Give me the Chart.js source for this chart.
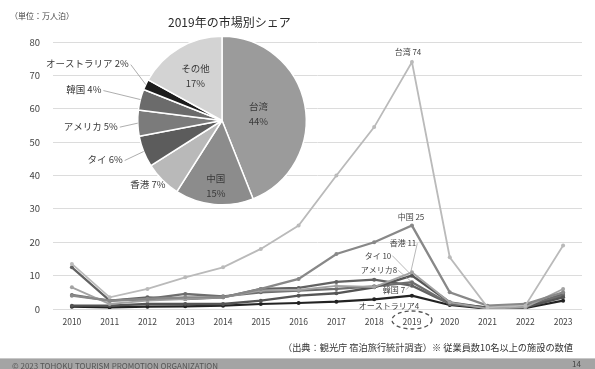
<!DOCTYPE html>
<html lang="ja">
<head>
<meta charset="utf-8">
<script src="https://cdn.jsdelivr.net/npm/chart.js@4.4.1/dist/chart.umd.min.js"></script>
<style>
    body { margin: 0; background: #fff; font-family: "Noto Sans CJK JP", sans-serif; }
    #wrap { position: relative; width: 595px; height: 369px; overflow: hidden; background: #fff; }
    #wrap canvas { position: absolute; left: 0; top: 0; }
    #pieChart { pointer-events: none; }
    .txt { position: absolute; white-space: nowrap; color: #333; line-height: 1; }
    #unit { left: 10px; top: 12px; font-size: 8px; color: #444; }
    #pieTitle { left: 168px; top: 16px; font-size: 12px; color: #2a2a2a; }
    #source { left: 283px; top: 343px; font-size: 9.2px; color: #333; }
    #footer { position: absolute; left: 0; top: 358px; width: 595px; height: 11px; background: #a4a4a4; border-top: 1px solid #c8c8c8; }
    #copy { left: 12px; top: 362px; font-size: 8px; color: #555; }
    #page { left: 572px; top: 360px; font-size: 8px; color: #444; }
</style>
</head>
<body>
<div id="wrap">
    <canvas id="lineChart" width="595" height="369"></canvas>
    <canvas id="pieChart" width="595" height="369"></canvas>
    <div class="txt" id="unit">（単位：万人泊）</div>
    <div class="txt" id="pieTitle">2019年の市場別シェア</div>
    <div class="txt" id="source">（出典：観光庁 宿泊旅行統計調査）※ 従業員数10名以上の施設の数値</div>
    <div id="footer"></div>
    <div class="txt" id="copy">© 2023 TOHOKU TOURISM PROMOTION ORGANIZATION</div>
    <div class="txt" id="page">14</div>
</div>
<script>
// 年
var years = ['2010', '2011', '2012', '2013', '2014', '2015', '2016', '2017', '2018', '2019', '2020', '2021', '2022', '2023'];

// 市場別 外国人延べ宿泊者数（万人泊）
var taiwan    = [13.5, 3.5, 6, 9.5, 12.5, 18, 25, 40, 54.5, 74, 15.5, 0.5, 1, 19];
var china     = [4, 2.5, 3, 3.5, 3.5, 6, 9, 16.5, 20, 25, 5, 1, 1.5, 5];
var hongkong  = [6.5, 1.5, 2.5, 3, 3.5, 5.5, 5.7, 6.9, 6.6, 11, 2, 0.1, 0.5, 6];
var thai      = [1, 1, 1.5, 1.5, 1.5, 2.5, 4, 4.7, 6.5, 10, 2, 0.3, 0.5, 3.5];
var america   = [4.2, 2.5, 3, 4.5, 3.8, 5, 5.5, 6, 6.8, 8, 1.5, 0.5, 1, 4];
var korea     = [12.5, 2.5, 3.5, 3, 3.5, 6, 6.3, 8.1, 8.8, 7, 1.5, 0.3, 0.8, 4.5];
var australia = [0.7, 0.5, 0.7, 0.8, 1, 1.5, 1.8, 2.2, 2.9, 4, 1.2, 0.1, 0.3, 2.5];

var marketNames = ['台湾', '中国', '香港', 'タイ', 'アメリカ', '韓国', 'オーストラリア'];
var endLabels = ['台湾 74', '中国 25', '香港 11', 'タイ 10', 'アメリカ8', '韓国 7', 'オーストラリア4'];

// 2019年の市場別シェア
var shareLabels = ['台湾', '中国', '香港', 'タイ', 'アメリカ', '韓国', 'オーストラリア', 'その他'];
var shareValues = [44, 15, 7, 6, 5, 4, 2, 17];

var yMin = 0, yMax = 80, yStep = 10;

// 見た目
var lineColors = ['#bababa', '#888888', '#a3a3a3', '#555555', '#6e6e6e', '#626262', '#222222'];
var lineWidths = [1.8, 2.3, 1.8, 2.4, 2.3, 2.3, 2.2];
// 2019年の点からのラベル位置 [dx, dy, 引き出し線]
var endLabelPos = [[-4, -10, false], [-1, -9, false], [-9, -29, true], [-34, -20, true], [-33, -12, true], [-18, 4, true], [-23, 10, false]];
var pieColors = ['#9b9b9b', '#8c8c8c', '#b9b9b9', '#5c5c5c', '#7b7b7b', '#6b6b6b', '#1c1c1c', '#d3d3d3'];
var pieLabelPos = [
    { inside: 0.44 },
    { inside: 0.78 },
    { dx: 3, dy: 4, line: false },
    { dx: -21, dy: 8, line: true },
    { dx: -20, dy: 3, line: true },
    { dx: -39, dy: -10, line: true },
    { dx: -17, dy: -21, line: true },
    { inside: 0.62 }
];

var FONT = '"Noto Sans CJK JP", sans-serif';
var series = [taiwan, china, hongkong, thai, america, korea, australia];
var idx2019 = years.indexOf('2019');

var endLabelPlugin = {
    id: 'endLabels',
    afterDatasetsDraw: function (chart) {
        var ctx = chart.ctx;
        ctx.save();
        ctx.font = '8px ' + FONT;
        ctx.textBaseline = 'middle';
        ctx.textAlign = 'center';
        chart.data.datasets.forEach(function (ds, i) {
            var pt = chart.getDatasetMeta(i).data[idx2019];
            var p = endLabelPos[i];
            var tx = pt.x + p[0], ty = pt.y + p[1];
            ctx.fillStyle = '#444';
            ctx.fillText(endLabels[i], tx, ty);
            if (p[2]) {
                var w = ctx.measureText(endLabels[i]).width;
                ctx.strokeStyle = '#999';
                ctx.lineWidth = 0.7;
                ctx.beginPath();
                ctx.moveTo(tx + w / 2 + 1, ty);
                ctx.lineTo(pt.x - 1, pt.y - 1);
                ctx.stroke();
            }
        });
        // 2019 を囲む破線の楕円
        var xs = chart.scales.x;
        var cx = xs.getPixelForValue(idx2019);
        ctx.strokeStyle = '#555';
        ctx.lineWidth = 1.3;
        ctx.setLineDash([4, 3]);
        ctx.beginPath();
        ctx.ellipse(cx, 320, 20, 9, 0, 0, Math.PI * 2);
        ctx.stroke();
        ctx.restore();
    }
};

var datasets = series.map(function (vals, i) {
    return {
        label: marketNames[i],
        data: vals,
        borderColor: lineColors[i],
        backgroundColor: lineColors[i],
        borderWidth: lineWidths[i],
        pointRadius: 2,
        pointBorderWidth: 0,
        tension: 0
    };
});

new Chart(document.getElementById('lineChart'), {
    type: 'line',
    data: { labels: years, datasets: datasets },
    options: {
        responsive: false,
        animation: false,
        layout: { padding: { left: 0, top: 42, right: 13, bottom: 40 } },
        plugins: { legend: { display: false }, tooltip: { enabled: false } },
        scales: {
            x: {
                offset: true,
                grid: { display: false, drawTicks: false },
                border: { display: false },
                ticks: { color: '#444', font: { size: 8.5, family: FONT }, padding: 8, maxRotation: 0 },
                afterFit: function (s) { s.height = 20; }
            },
            y: {
                min: yMin,
                max: yMax,
                grid: { color: '#dcdcdc', lineWidth: 1, drawTicks: false },
                border: { display: false },
                ticks: { stepSize: yStep, color: '#444', font: { size: 9.5, family: FONT }, padding: 13 },
                afterFit: function (s) { s.width = 53; }
            }
        }
    },
    plugins: [endLabelPlugin]
});

var pieLabelPlugin = {
    id: 'pieLabels',
    afterDatasetsDraw: function (chart) {
        var ctx = chart.ctx;
        var arcs = chart.getDatasetMeta(0).data;
        ctx.save();
        ctx.font = '9.5px ' + FONT;
        ctx.fillStyle = '#3a3a3a';
        ctx.textBaseline = 'middle';
        arcs.forEach(function (arc, i) {
            var mid = (arc.startAngle + arc.endAngle) / 2;
            var p = pieLabelPos[i];
            if (p.inside) {
                var r = arc.outerRadius * p.inside;
                var x = arc.x + Math.cos(mid) * r, y = arc.y + Math.sin(mid) * r;
                ctx.textAlign = 'center';
                ctx.fillText(shareLabels[i], x, y - 7.5);
                ctx.fillText(shareValues[i] + '%', x, y + 7.5);
            } else {
                var ex = arc.x + Math.cos(mid) * arc.outerRadius;
                var ey = arc.y + Math.sin(mid) * arc.outerRadius;
                var tx = ex + p.dx, ty = ey + p.dy;
                ctx.textAlign = 'right';
                ctx.fillText(shareLabels[i] + ' ' + shareValues[i] + '%', tx, ty);
                if (p.line) {
                    ctx.strokeStyle = '#999';
                    ctx.lineWidth = 0.8;
                    ctx.beginPath();
                    ctx.moveTo(tx + 2, ty + 1);
                    ctx.lineTo(ex, ey);
                    ctx.stroke();
                }
            }
        });
        ctx.restore();
    }
};

new Chart(document.getElementById('pieChart'), {
    type: 'pie',
    data: {
        labels: shareLabels,
        datasets: [{
            data: shareValues,
            backgroundColor: pieColors,
            borderColor: '#ffffff',
            borderWidth: 1.5
        }]
    },
    options: {
        responsive: false,
        animation: false,
        layout: { padding: { left: 137, right: 288, top: 35, bottom: 163 } },
        plugins: { legend: { display: false }, tooltip: { enabled: false } }
    },
    plugins: [pieLabelPlugin]
});
</script>
</body>
</html>
